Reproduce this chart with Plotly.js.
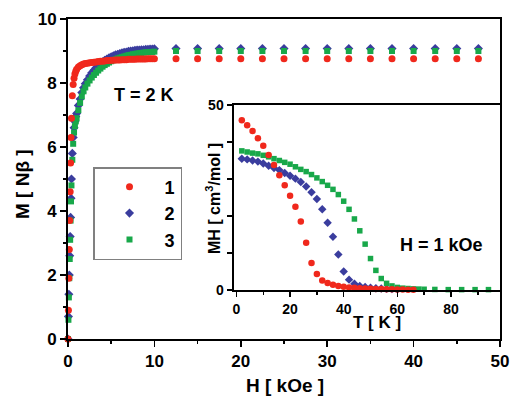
<!DOCTYPE html>
<html><head><meta charset="utf-8">
<script src="https://cdn.plot.ly/plotly-3.0.1.min.js"></script>
<style>html,body{margin:0;padding:0;background:#fff}#c{width:511px;height:396px}</style>
</head><body><div id="c"></div>
<script>
// Main panel: M vs H at T = 2 K
var H = [0, 0.05, 0.1, 0.15, 0.2, 0.25, 0.3, 0.35, 0.4, 0.5, 0.6, 0.7, 0.8, 0.9, 1.0, 1.2, 1.4, 1.6, 1.8, 2.0,
  2.25, 2.5, 2.75, 3.0, 3.25, 3.5, 3.75, 4.0, 4.25, 4.5, 4.75, 5.0, 5.25, 5.5, 5.75, 6.0, 6.25, 6.5, 6.75, 7.0,
  7.25, 7.5, 7.75, 8.0, 8.25, 8.5, 8.75, 9.0, 9.25, 9.5, 9.75, 10.0,
  12.5, 15, 17.5, 20, 22.5, 25, 27.5, 30, 32.5, 35, 37.5, 40, 42.5, 45, 47.5];
var M1 = [0, 0.9, 1.9, 2.8, 3.7, 4.6, 5.5, 6.3, 6.9, 7.6, 7.95, 8.15, 8.28, 8.37, 8.43, 8.5, 8.54, 8.57, 8.59, 8.61,
  8.62, 8.63, 8.64, 8.65, 8.66, 8.67, 8.68, 8.68, 8.69, 8.70, 8.70, 8.71, 8.71, 8.72, 8.72, 8.72, 8.73, 8.73, 8.73, 8.74,
  8.74, 8.74, 8.74, 8.75, 8.75, 8.75, 8.75, 8.75, 8.76, 8.76, 8.76, 8.76,
  8.76, 8.76, 8.76, 8.76, 8.76, 8.76, 8.76, 8.76, 8.76, 8.76, 8.76, 8.76, 8.76, 8.76, 8.76];
var M2 = [0, 0.7, 1.4, 2.0, 2.6, 3.2, 3.8, 4.4, 5.0, 5.8, 6.3, 6.6, 6.8, 6.95, 7.05, 7.3, 7.5, 7.7, 7.85, 7.98,
  8.1, 8.22, 8.32, 8.4, 8.48, 8.55, 8.61, 8.66, 8.71, 8.75, 8.79, 8.82, 8.85, 8.88, 8.90, 8.92, 8.94, 8.96, 8.97, 8.99,
  9.0, 9.01, 9.02, 9.03, 9.03, 9.04, 9.04, 9.05, 9.05, 9.06, 9.06, 9.07,
  9.08, 9.08, 9.08, 9.08, 9.08, 9.08, 9.08, 9.08, 9.08, 9.08, 9.08, 9.08, 9.08, 9.08, 9.08];
var M3 = [0, 0.6, 1.3, 1.9, 2.5, 3.1, 3.7, 4.3, 4.8, 5.6, 6.1, 6.45, 6.65, 6.8, 6.9, 7.15, 7.38, 7.58, 7.74, 7.86,
  7.98, 8.08, 8.17, 8.25, 8.32, 8.39, 8.45, 8.51, 8.56, 8.60, 8.64, 8.68, 8.71, 8.74, 8.77, 8.79, 8.81, 8.83, 8.85, 8.87,
  8.88, 8.9, 8.91, 8.92, 8.93, 8.94, 8.95, 8.96, 8.96, 8.97, 8.97, 8.98,
  9.0, 9.0, 9.0, 9.0, 9.0, 9.0, 9.0, 9.0, 9.0, 9.0, 9.0, 9.0, 9.0, 9.0, 9.0];

// Inset: MH vs T at H = 1 kOe
var T1 = [2, 4, 6, 8, 10, 12, 14, 16, 18, 20, 22, 24, 26, 28, 30, 32, 34, 36, 38, 40, 42, 44, 46, 48, 50, 52, 54, 56, 58, 60, 62, 64, 66];
var MH1 = [45.9, 44.5, 43.0, 41.0, 39.0, 36.5, 33.8, 31.0, 28.3, 25.5, 22.5, 18.5, 12.8, 7.3, 4.3, 2.6, 1.9, 1.4, 1.1, 0.9, 0.7, 0.6, 0.5, 0.4, 0.35, 0.3, 0.25, 0.2, 0.2, 0.15, 0.15, 0.1, 0.1];
var T2 = [2, 4, 6, 8, 10, 12, 14, 16, 18, 20, 22, 24, 26, 28, 30, 32, 34, 36, 38, 40, 42, 44, 46, 48, 50, 52, 54, 56, 58, 60];
var MH2 = [35.5, 35.3, 35.0, 34.7, 34.2, 33.6, 33.0, 32.4, 31.6, 30.9, 30.1, 29.2, 28.0, 26.4, 24.6, 21.8, 18.2, 14.4, 9.6, 5.0, 2.8, 1.7, 1.1, 0.8, 0.6, 0.5, 0.4, 0.3, 0.25, 0.2];
var T3 = [2, 4, 6, 8, 10, 12, 14, 16, 18, 20, 22, 24, 26, 28, 30, 32, 34, 36, 38, 40, 42, 44, 46, 48, 50, 52, 54, 56, 58, 60, 62, 64, 66, 68, 70, 74, 79, 84, 89, 94];
var MH3 = [37.6, 37.3, 37.0, 36.8, 36.4, 36.0, 35.5, 35.0, 34.5, 34.0, 33.3, 32.6, 32.0, 31.2, 30.3, 29.3, 28.3, 27.2, 25.8, 24.0, 21.8, 19.2, 16.0, 12.4, 8.5, 5.3, 3.1, 1.8, 1.1, 0.7, 0.5, 0.4, 0.3, 0.25, 0.2, 0.15, 0.1, 0.1, 0.1, 0.1];

var names = ['1', '2', '3'];
var colors = ['#f0281c', '#3a3d9e', '#18a84a'];
var symbols = ['circle', 'diamond', 'square'];

var FONT = 'Liberation Sans, Arial, sans-serif';

function tr(x, y, i, xa, ya, sz, leg) {
  return {
    x: x, y: y, type: 'scatter', mode: 'markers', name: names[i],
    xaxis: xa, yaxis: ya, showlegend: leg, legendrank: i + 1, cliponaxis: false,
    marker: {color: colors[i], symbol: symbols[i], size: (symbols[i] === 'square' ? sz - 1 : sz), line: {width: 0}}
  };
}

var data = [
  tr(H, M2, 1, 'x', 'y', 7, true),
  tr(H, M3, 2, 'x', 'y', 7, true),
  tr(H, M1, 0, 'x', 'y', 7, true),
  tr(T2, MH2, 1, 'x2', 'y2', 6.5, false),
  tr(T3, MH3, 2, 'x2', 'y2', 6.5, false),
  tr(T1, MH1, 0, 'x2', 'y2', 6.5, false)
];

var axBase = {showgrid: false, zeroline: false, showline: true, linecolor: '#000', linewidth: 2,
  ticks: 'outside', tickcolor: '#000', tickwidth: 1.5, color: '#000'};

function ann(text, px, py, size, angle) {
  return {text: text, xref: 'paper', yref: 'paper', x: (px - 68) / 432, y: (339 - py) / 320,
    xanchor: 'center', yanchor: 'middle', textangle: angle || 0, showarrow: false,
    font: {size: size, family: FONT, weight: 700, color: '#000'}};
}

var layout = {
  width: 511, height: 396,
  margin: {l: 68, r: 11, t: 19, b: 57, pad: 0},
  paper_bgcolor: '#fff', plot_bgcolor: '#fff',
  font: {family: FONT, color: '#000', weight: 700},
  showlegend: true,
  legend: {x: (93 - 68) / 432, y: (339 - 167) / 320, xanchor: 'left', yanchor: 'top',
    bordercolor: '#808080', borderwidth: 1.5, bgcolor: '#fff', itemwidth: 60,
    font: {size: 18, family: FONT, weight: 700}},
  xaxis: Object.assign({}, axBase, {domain: [0, 1], range: [0, 50], dtick: 10, ticklen: 6, mirror: true,
    minor: {dtick: 5, ticklen: 3, ticks: 'outside', tickwidth: 1.5, tickcolor: '#000'},
    tickfont: {size: 17, family: FONT, weight: 700}, anchor: 'y'}),
  yaxis: Object.assign({}, axBase, {domain: [0, 1], range: [0, 10], dtick: 2, ticklen: 6, mirror: true,
    minor: {dtick: 1, ticklen: 3, ticks: 'outside', tickwidth: 1.5, tickcolor: '#000'},
    tickfont: {size: 17, family: FONT, weight: 700}, anchor: 'x'}),
  xaxis3: {overlaying: 'x', side: 'top', anchor: 'y', range: [0, 50], dtick: 10, ticks: 'inside', ticklen: 6,
    tickwidth: 1.5, tickcolor: '#000', showticklabels: false, showgrid: false, zeroline: false, showline: false,
    minor: {dtick: 5, ticklen: 3, ticks: 'inside', tickwidth: 1.5, tickcolor: '#000'}},
  xaxis2: Object.assign({}, axBase, {domain: [(233.5 - 68) / 432, 1], range: [-1.1, 98.3], anchor: 'y2',
    tickvals: [0, 20, 40, 60, 80], ticklen: 5, mirror: true,
    minor: {dtick: 10, ticklen: 3, ticks: 'outside', tickwidth: 1.5, tickcolor: '#000'},
    tickfont: {size: 14, family: FONT, weight: 700}}),
  yaxis2: Object.assign({}, axBase, {domain: [(339 - 290) / 320, (339 - 105) / 320], range: [0, 50], anchor: 'x2',
    tickvals: [0, 10, 20, 30, 40, 50], ticktext: ['0', '', '', '', '', '50'], ticklen: 5, mirror: true,
    tickfont: {size: 14, family: FONT, weight: 700}}),
  annotations: [
    ann('M [ Nβ ]', 22, 184, 19, -90),
    ann('H [ kOe ]', 285, 385, 19),
    ann('MH [ cm<sup>3</sup>/mol ]', 213, 199, 16, -90),
    ann('T [ K ]', 377, 322, 17),
    ann('T = 2 K', 144, 95, 18),
    ann('H = 1 kOe', 441, 245, 18)
  ]
};

Plotly.newPlot('c', data, layout, {staticPlot: true, displayModeBar: false});
</script>
</body></html>
